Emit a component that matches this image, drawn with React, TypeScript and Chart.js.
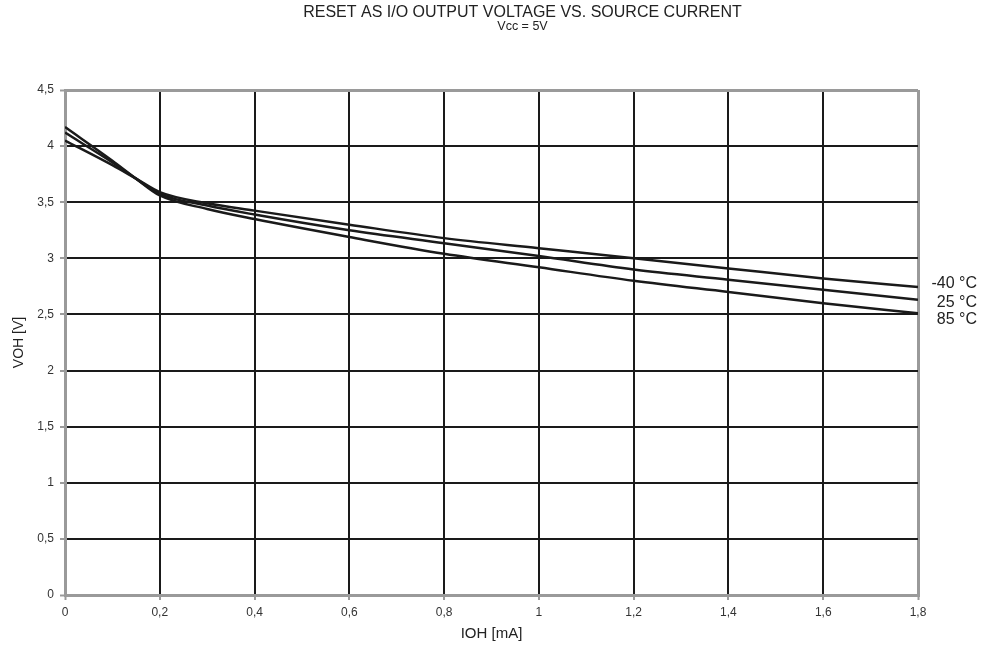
import React, { useEffect, useRef } from "react";
import { Chart, registerables } from "chart.js";

Chart.register(...registerables);

const currents = [0, 0.1, 0.15, 0.2, 0.3, 0.4, 0.6, 0.8, 1.0, 1.2, 1.4, 1.6, 1.8];
const voh_m40 = [4.05, 3.83, 3.71, 3.59, 3.49, 3.425, 3.3, 3.18, 3.09, 3.0, 2.91, 2.82, 2.745];
const voh_25 = [4.12, 3.855, 3.71, 3.575, 3.47, 3.39, 3.25, 3.135, 3.02, 2.9, 2.81, 2.72, 2.63];
const voh_85 = [4.17, 3.87, 3.71, 3.56, 3.44, 3.35, 3.19, 3.04, 2.92, 2.8, 2.7, 2.6, 2.51];
const seriesLabels = ["-40 °C", "25 °C", "85 °C"];
const labelNudges = [-3, 3, 6];

const titleText = "RESET AS I/O OUTPUT VOLTAGE VS. SOURCE CURRENT";
const subtitleText = "Vcc = 5V";
const xTitle = "IOH [mA]";
const yTitle = "VOH [V]";

const FONT = "'Liberation Sans', Arial, sans-serif";
const LINE = "#1a1a1a";
const GRID = "#1a1a1a";
const FRAME = "#9a9a9a";
const TEXT = "#333333";

const fmt = (v: number) => String(Math.round(v * 10) / 10).replace(".", ",");

const endLabels = {
  id: "endLabels",
  afterDatasetsDraw(chart: any) {
    const ctx = chart.ctx;
    ctx.save();
    ctx.font = `16px ${FONT}`;
    ctx.fillStyle = "#222";
    ctx.textAlign = "right";
    ctx.textBaseline = "middle";
    chart.data.datasets.forEach((ds: any, i: number) => {
      const meta = chart.getDatasetMeta(i);
      const pt = meta.data[meta.data.length - 1];
      ctx.fillText(seriesLabels[i], chart.width - 7, pt.y + labelNudges[i]);
    });
    ctx.restore();
  },
};

const headTitles = {
  id: "headTitles",
  afterDraw(chart: any) {
    const ctx = chart.ctx;
    const cx = (chart.chartArea.left + chart.chartArea.right) / 2 + 31;
    ctx.save();
    ctx.fillStyle = "#222";
    ctx.textAlign = "center";
    ctx.textBaseline = "middle";
    ctx.font = `16px ${FONT}`;
    ctx.fillText(titleText, cx, 13);
    ctx.font = `12.5px ${FONT}`;
    ctx.fillText(subtitleText, cx, 27);
    ctx.restore();
  },
};

export default function App() {
  const ref = useRef<HTMLCanvasElement>(null);
  useEffect(() => {
    document.body.style.margin = "0";
    const mk = (vals: number[], label: string) => ({
      label,
      data: currents.map((x, i) => ({ x, y: vals[i] })),
      borderColor: LINE,
      borderWidth: 2.5,
      pointRadius: 0,
      fill: false,
      cubicInterpolationMode: "monotone" as const,
    });
    const isEdge = (v: number, max: number) => v === 0 || Math.abs(v - max) < 1e-6;
    const chart = new Chart(ref.current!, {
      type: "line",
      data: {
        datasets: [mk(voh_m40, seriesLabels[0]), mk(voh_25, seriesLabels[1]), mk(voh_85, seriesLabels[2])],
      },
      options: {
        animation: false,
        responsive: false,
        layout: { padding: { left: 0, right: 66, top: 90, bottom: 0 } },
        plugins: {
          legend: { display: false },
          tooltip: { enabled: false },
          title: { display: false },
        },
        scales: {
          x: {
            type: "linear",
            min: 0,
            max: 1.8,
            afterFit: (s: any) => {
              s.height = 52;
            },
            ticks: {
              stepSize: 0.2,
              color: TEXT,
              padding: 5,
              font: { family: FONT, size: 12 },
              callback: (v: any) => fmt(Number(v)),
            },
            grid: {
              color: (c: any) => (c.tick && isEdge(c.tick.value, 1.8) ? FRAME : GRID),
              lineWidth: (c: any) => (c.tick && isEdge(c.tick.value, 1.8) ? 3 : 2),
              tickColor: FRAME,
              tickLength: 5,
              tickWidth: 2,
            },
            border: { color: FRAME, width: 3 },
            title: {
              display: true,
              text: xTitle,
              color: "#222",
              font: { family: FONT, size: 15 },
              padding: { top: 0, bottom: 4 },
            },
          },
          y: {
            min: 0,
            max: 4.5,
            afterFit: (s: any) => {
              s.width = 65;
            },
            ticks: {
              stepSize: 0.5,
              color: TEXT,
              padding: 6,
              font: { family: FONT, size: 12 },
              callback: (v: any) => fmt(Number(v)),
            },
            grid: {
              color: (c: any) => (c.tick && isEdge(c.tick.value, 4.5) ? FRAME : GRID),
              lineWidth: (c: any) => (c.tick && isEdge(c.tick.value, 4.5) ? 3 : 2),
              tickColor: FRAME,
              tickLength: 5,
              tickWidth: 2,
            },
            border: { color: FRAME, width: 3 },
            title: {
              display: true,
              text: yTitle,
              color: "#222",
              font: { family: FONT, size: 14 },
              padding: { top: 11, bottom: 0 },
            },
          },
        },
      },
      plugins: [endLabels, headTitles],
    });
    return () => chart.destroy();
  }, []);
  return (
    <div style={{ position: "absolute", left: 0, top: 0, width: 984, height: 647, background: "#fff" }}>
      <canvas ref={ref} width={984} height={647} />
    </div>
  );
}
